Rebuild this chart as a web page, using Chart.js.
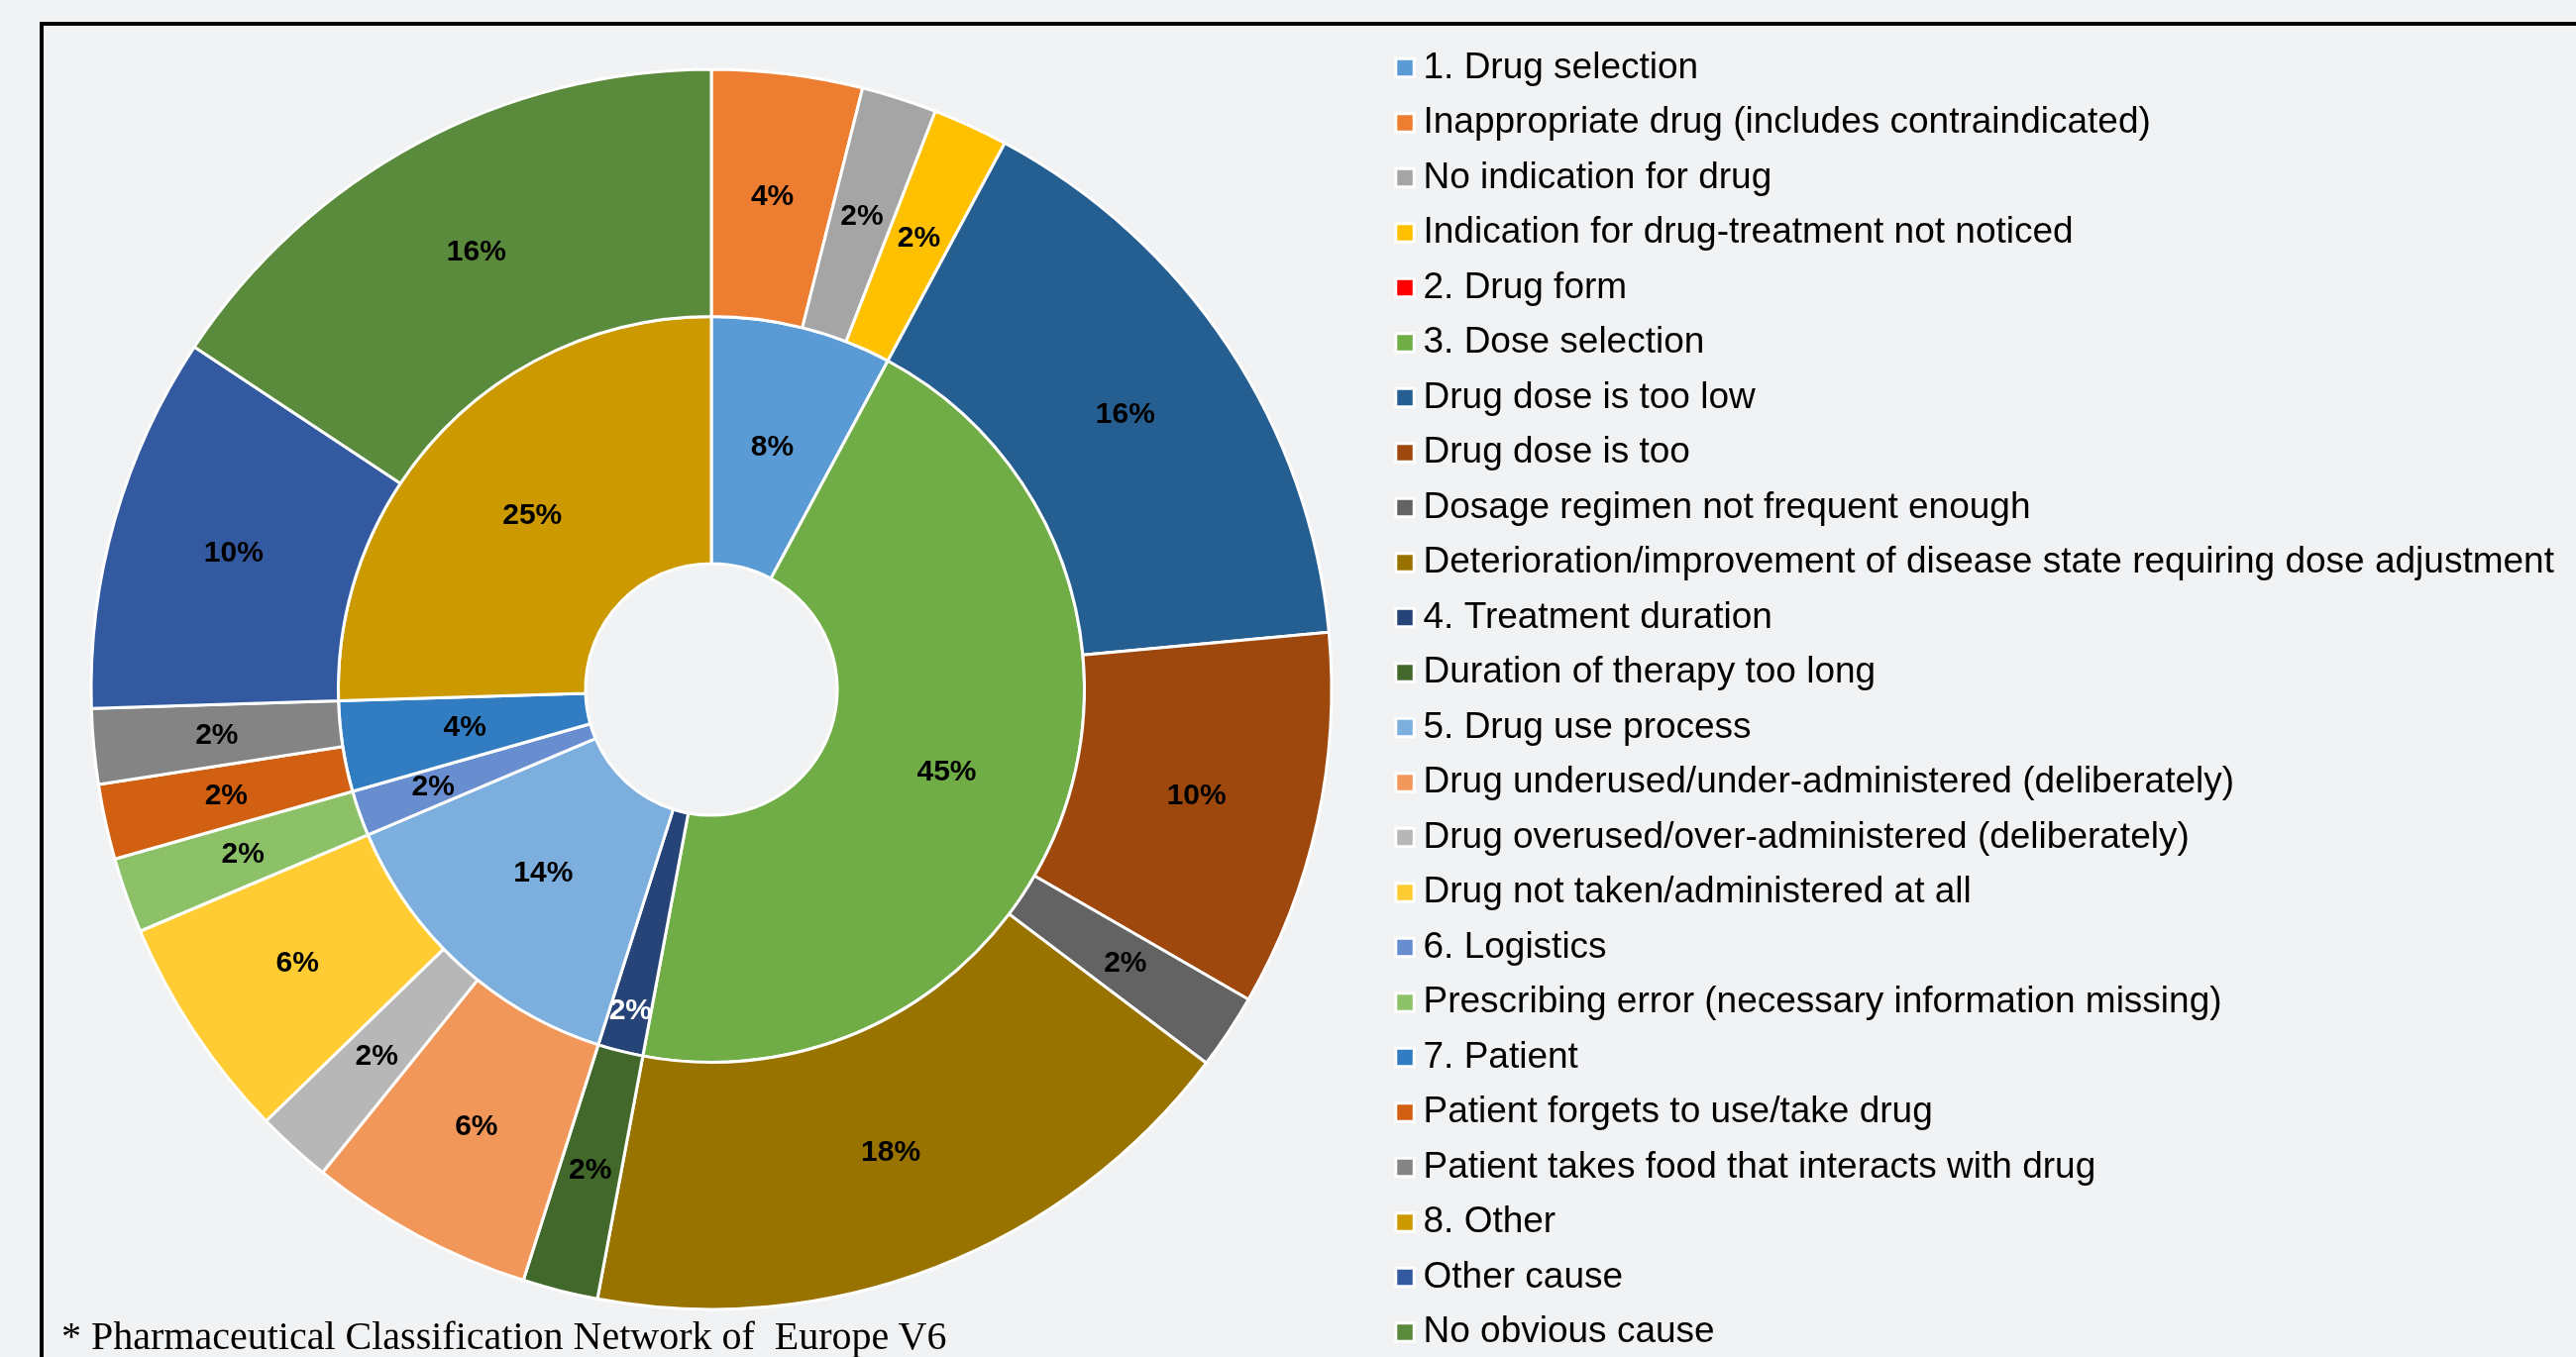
<!DOCTYPE html>
<html>
<head>
<meta charset="utf-8">
<title>Drug related problems by type</title>
<script src="https://cdn.jsdelivr.net/npm/chart.js@4.4.1/dist/chart.umd.min.js"></script>
<style>
  html, body { margin: 0; padding: 0; }
  body {
    width: 2600px; height: 1370px; overflow: hidden; position: relative;
    background: #f1f2f4;
  }
  #frame {
    position: absolute; left: 40px; top: 22px; width: 2700px; height: 1500px;
    border-top: 4px solid #000; border-left: 4px solid #000;
  }
  #wrap { position: absolute; left: 0; top: 0; width: 2600px; height: 1392px; }
  #note {
    position: absolute; left: 62px; top: 1329px; white-space: pre;
    font-family: "Liberation Serif", "Times New Roman", serif; font-size: 40px; line-height: 1;
    color: #000;
  }
</style>
</head>
<body>
<div id="frame"></div>
<div id="wrap"><canvas id="drpChart" width="2600" height="1392"></canvas></div>
<div id="note">* Pharmaceutical Classification Network of  Europe V6</div>

<script>
// PCNE categories (numbered) followed by their sub-causes, in drawing order
const labels = [
    '1. Drug selection',
    'Inappropriate drug (includes contraindicated)',
    'No indication for drug',
    'Indication for drug-treatment not noticed',
    '2. Drug form',
    '3. Dose selection',
    'Drug dose is too low',
    'Drug dose is too',
    'Dosage regimen not frequent enough',
    'Deterioration/improvement of disease state requiring dose adjustment',
    '4. Treatment duration',
    'Duration of therapy too long',
    '5. Drug use process',
    'Drug underused/under-administered (deliberately)',
    'Drug overused/over-administered (deliberately)',
    'Drug not taken/administered at all',
    '6. Logistics',
    'Prescribing error (necessary information missing)',
    '7. Patient',
    'Patient forgets to use/take drug',
    'Patient takes food that interacts with drug',
    '8. Other',
    'Other cause',
    'No obvious cause'
];

// number of problems per sub-cause (outer ring), 0 where the entry is a category
const causeCounts = [0, 2, 1, 1, 0, 0, 8, 5, 1, 9, 0, 1, 0, 3, 1, 3, 0, 1, 0, 1, 1, 0, 5, 8];

// number of problems per category (inner ring), 0 where the entry is a sub-cause
const categoryCounts = [4, 0, 0, 0, 0, 23, 0, 0, 0, 0, 1, 0, 7, 0, 0, 0, 1, 0, 2, 0, 0, 13, 0, 0];

const colors = [
    '#5b9bd5', '#ed7d31', '#a5a5a5', '#ffc000', '#ff0000',
    '#70ad47', '#255e91', '#9e480e', '#636363', '#997300',
    '#264478', '#43682b', '#7cafdd', '#f1975a', '#b7b7b7',
    '#ffcd33', '#698ed0', '#8cc168', '#327dc2', '#d26012',
    '#848484', '#cc9a00', '#335aa1', '#5a8a3b'
];

// inner-ring labels that don't fit their wedge get pushed outwards
const innerLabelShift = { 10: 83, 16: 46 };
const innerLabelColor = { 10: '#ffffff' };

const LEGEND_FONT = 37;
const LEGEND_PAD = 18.5;
const LEGEND_BOX_W = 0.01;   // marker is centred on the item x, text follows right after

// keep legend markers at a fixed x whatever the longest label measures
const measure = document.createElement('canvas').getContext('2d');
measure.font = LEGEND_FONT + 'px "Liberation Sans", Arial, sans-serif';
const longest = Math.max(...labels.map(t => measure.measureText(t).width));
const padRight = Math.max(0, 2600 - (1418 - LEGEND_PAD) - (LEGEND_PAD + LEGEND_BOX_W + LEGEND_FONT / 2 + longest + 10));

const pctLabels = {
    id: 'pctLabels',
    afterDatasetsDraw(chart) {
        const ctx = chart.ctx;
        ctx.save();
        ctx.font = 'bold 30px "Liberation Sans", Arial, sans-serif';
        ctx.textAlign = 'center';
        ctx.textBaseline = 'middle';
        chart.data.datasets.forEach((ds, di) => {
            const meta = chart.getDatasetMeta(di);
            const total = ds.data.reduce((a, b) => a + b, 0);
            const isInner = di === 1;
            meta.data.forEach((arc, i) => {
                const v = ds.data[i];
                if (!v) return;
                const p = arc.getProps(['x', 'y', 'startAngle', 'endAngle', 'innerRadius', 'outerRadius'], true);
                const mid = (p.startAngle + p.endAngle) / 2;
                const r = (p.innerRadius + p.outerRadius) / 2 + (isInner ? (innerLabelShift[i] || 0) : 0);
                ctx.fillStyle = (isInner && innerLabelColor[i]) || '#000';
                ctx.fillText(Math.round(v / total * 100) + '%', p.x + Math.cos(mid) * r, p.y + Math.sin(mid) * r);
            });
        });
        ctx.restore();
    }
};

new Chart(document.getElementById('drpChart'), {
    type: 'doughnut',
    data: {
        labels: labels,
        datasets: [
            { label: 'Cause', data: causeCounts, backgroundColor: colors, borderColor: '#ffffff', borderWidth: 3 },
            { label: 'Category', data: categoryCounts, backgroundColor: colors, borderColor: '#ffffff', borderWidth: 3 }
        ]
    },
    options: {
        responsive: false,
        animation: false,
        devicePixelRatio: 1,
        radius: 626,
        cutout: '20.3%',
        layout: { padding: { left: 36.5, right: padRight, top: 0, bottom: 0 } },
        plugins: {
            tooltip: { enabled: false },
            legend: {
                position: 'right',
                align: 'start',
                title: { display: true, text: '', padding: { top: 19.5, bottom: 0 }, font: { size: 10 } },
                labels: {
                    usePointStyle: true,
                    pointStyle: 'rect',
                    boxWidth: LEGEND_BOX_W,
                    boxHeight: 18.5,
                    padding: LEGEND_PAD,
                    color: '#000',
                    font: { family: '"Liberation Sans", Arial, sans-serif', size: LEGEND_FONT }
                }
            }
        }
    },
    plugins: [pctLabels]
});
</script>
</body>
</html>
